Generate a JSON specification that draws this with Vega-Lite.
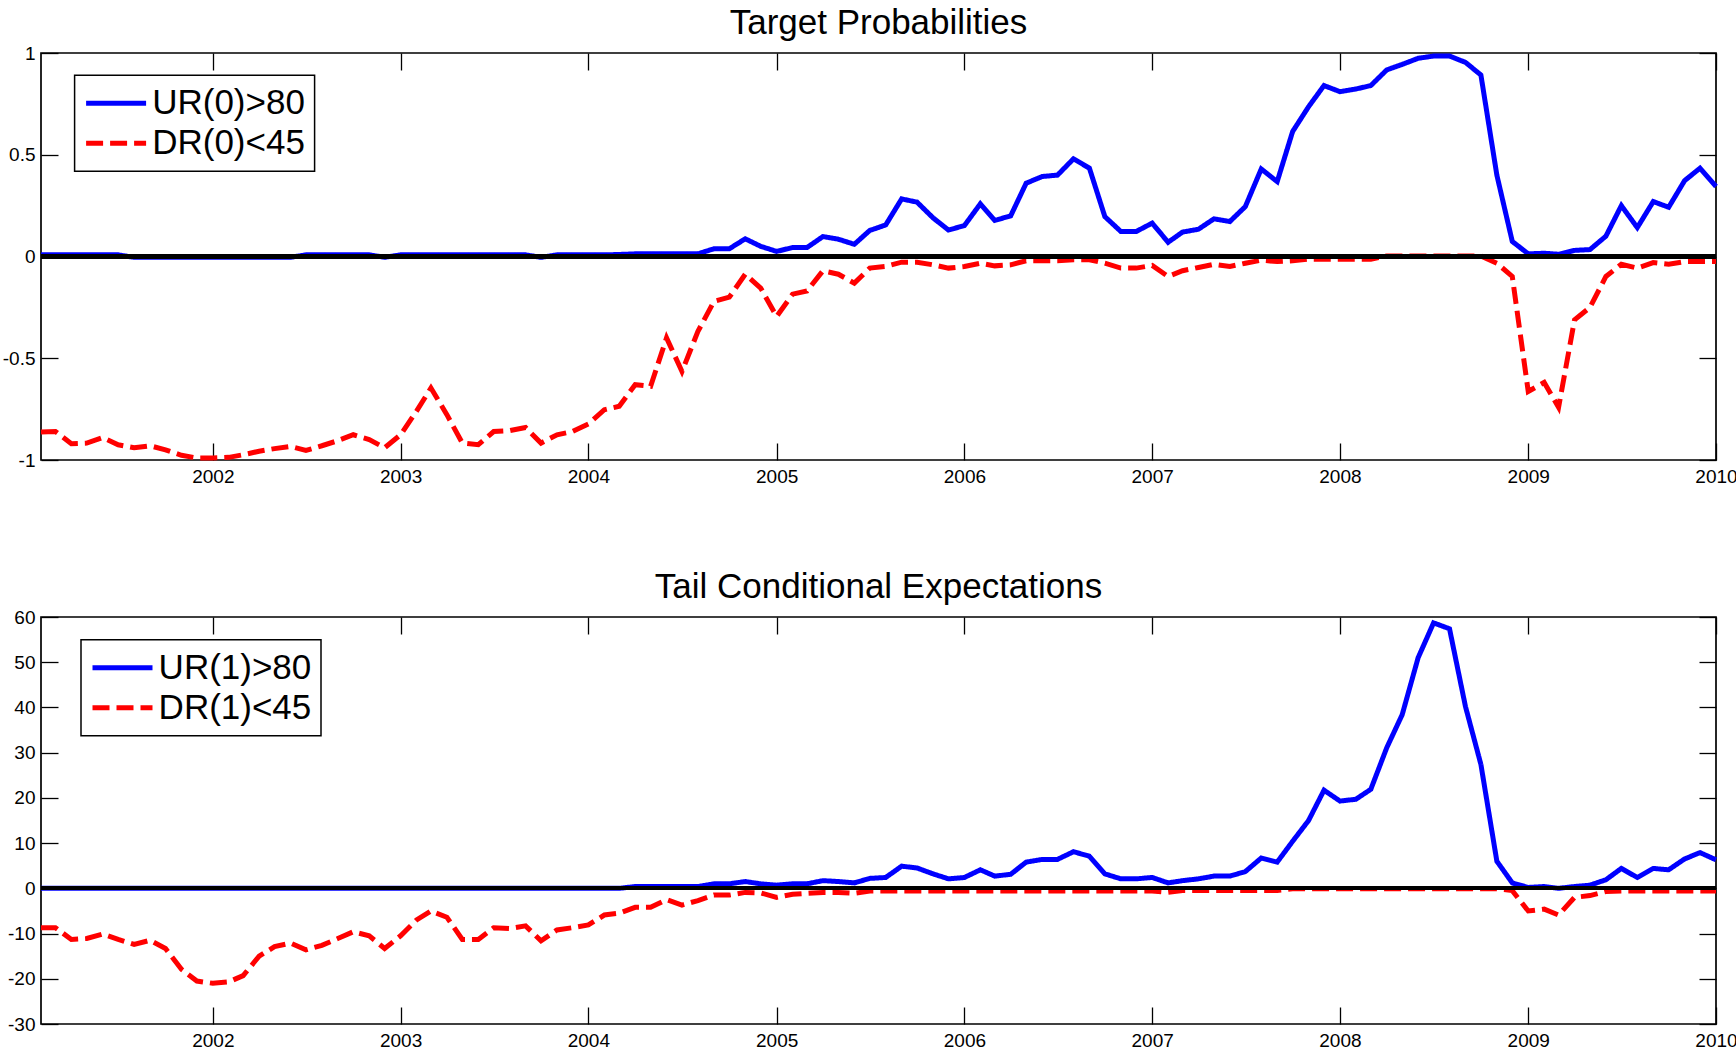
{
  "$schema": "https://vega.github.io/schema/vega-lite/v6.json",
  "padding": {"left": 1, "top": 4, "right": 0, "bottom": 0},
  "background": "white",
  "spacing": 81,
  "config": {
    "font": "Liberation Sans",
    "view": {"stroke": "black", "strokeWidth": 1.7},
    "axis": {"grid": false, "domain": false, "tickColor": "black", "tickWidth": 1.3, "tickSize": -17, "labelColor": "black", "labelFontSize": 19, "labelFont": "Liberation Sans"},
    "title": {"fontSize": 35, "fontWeight": "normal", "color": "black", "font": "Liberation Sans", "offset": 3.5, "anchor": "middle"},
    "legend": {"orient": "none", "legendX": 33.6, "legendY": 22.3, "strokeColor": "black", "strokeWidth": 1.5, "fillColor": "white", "padding": 9, "cornerRadius": 0, "symbolType": "stroke", "symbolSize": 3600, "symbolStrokeWidth": 5, "symbolOffset": 0, "clipHeight": 38, "labelFontSize": 35, "labelFont": "Liberation Sans", "labelColor": "black", "labelOffset": 3.6, "rowPadding": 2, "labelLimit": 0}
  },
  "datasets": {
    "d": [
      {"date":"2001-02-01","U0":0.008,"D0":-0.862,"U1":0,"D1":-8.7},
      {"date":"2001-03-01","U0":0.008,"D0":-0.86,"U1":0,"D1":-8.7},
      {"date":"2001-04-01","U0":0.008,"D0":-0.92,"U1":0,"D1":-11.3},
      {"date":"2001-05-01","U0":0.008,"D0":-0.917,"U1":0,"D1":-11.1},
      {"date":"2001-06-01","U0":0.008,"D0":-0.89,"U1":0,"D1":-10.1},
      {"date":"2001-07-01","U0":0.008,"D0":-0.925,"U1":0,"D1":-11.3},
      {"date":"2001-08-01","U0":-0.004,"D0":-0.94,"U1":0,"D1":-12.4},
      {"date":"2001-09-01","U0":-0.004,"D0":-0.93,"U1":0,"D1":-11.5},
      {"date":"2001-10-01","U0":-0.004,"D0":-0.95,"U1":0,"D1":-13.3},
      {"date":"2001-11-01","U0":-0.004,"D0":-0.977,"U1":0,"D1":-17.9},
      {"date":"2001-12-01","U0":-0.004,"D0":-0.99,"U1":0,"D1":-20.5},
      {"date":"2002-01-01","U0":-0.004,"D0":-0.99,"U1":0,"D1":-21.0},
      {"date":"2002-02-01","U0":-0.004,"D0":-0.987,"U1":0,"D1":-20.7},
      {"date":"2002-03-01","U0":-0.004,"D0":-0.974,"U1":0,"D1":-19.3},
      {"date":"2002-04-01","U0":-0.004,"D0":-0.957,"U1":0,"D1":-15},
      {"date":"2002-05-01","U0":-0.004,"D0":-0.944,"U1":0,"D1":-12.9},
      {"date":"2002-06-01","U0":-0.004,"D0":-0.933,"U1":0,"D1":-12.1},
      {"date":"2002-07-01","U0":0.008,"D0":-0.953,"U1":0,"D1":-13.6},
      {"date":"2002-08-01","U0":0.008,"D0":-0.93,"U1":0,"D1":-12.6},
      {"date":"2002-09-01","U0":0.008,"D0":-0.905,"U1":0,"D1":-11.1},
      {"date":"2002-10-01","U0":0.008,"D0":-0.876,"U1":0,"D1":-9.6},
      {"date":"2002-11-01","U0":0.008,"D0":-0.9,"U1":0,"D1":-10.5},
      {"date":"2002-12-01","U0":-0.004,"D0":-0.94,"U1":0,"D1":-13.3},
      {"date":"2003-01-01","U0":0.008,"D0":-0.876,"U1":0,"D1":-10.5},
      {"date":"2003-02-01","U0":0.008,"D0":-0.76,"U1":0,"D1":-7},
      {"date":"2003-03-01","U0":0.008,"D0":-0.646,"U1":0,"D1":-5},
      {"date":"2003-04-01","U0":0.008,"D0":-0.777,"U1":0,"D1":-6.4},
      {"date":"2003-05-01","U0":0.008,"D0":-0.917,"U1":0,"D1":-11.3},
      {"date":"2003-06-01","U0":0.008,"D0":-0.925,"U1":0,"D1":-11.3},
      {"date":"2003-07-01","U0":0.008,"D0":-0.86,"U1":0,"D1":-8.7},
      {"date":"2003-08-01","U0":0.008,"D0":-0.856,"U1":0,"D1":-8.9},
      {"date":"2003-09-01","U0":0.008,"D0":-0.84,"U1":0,"D1":-8.3},
      {"date":"2003-10-01","U0":-0.004,"D0":-0.917,"U1":0,"D1":-11.6},
      {"date":"2003-11-01","U0":0.008,"D0":-0.876,"U1":0,"D1":-9.2},
      {"date":"2003-12-01","U0":0.008,"D0":-0.86,"U1":0,"D1":-8.7},
      {"date":"2004-01-01","U0":0.008,"D0":-0.823,"U1":0,"D1":-8.1},
      {"date":"2004-02-01","U0":0.008,"D0":-0.753,"U1":0,"D1":-5.9},
      {"date":"2004-03-01","U0":0.01,"D0":-0.736,"U1":0,"D1":-5.5},
      {"date":"2004-04-01","U0":0.013,"D0":-0.63,"U1":0.4,"D1":-4.2},
      {"date":"2004-05-01","U0":0.013,"D0":-0.638,"U1":0.4,"D1":-4.2},
      {"date":"2004-06-01","U0":0.013,"D0":-0.4,"U1":0.4,"D1":-2.5},
      {"date":"2004-07-01","U0":0.013,"D0":-0.565,"U1":0.4,"D1":-3.7},
      {"date":"2004-08-01","U0":0.013,"D0":-0.368,"U1":0.4,"D1":-2.7},
      {"date":"2004-09-01","U0":0.038,"D0":-0.221,"U1":1.0,"D1":-1.5},
      {"date":"2004-10-01","U0":0.038,"D0":-0.2,"U1":1.0,"D1":-1.5},
      {"date":"2004-11-01","U0":0.087,"D0":-0.087,"U1":1.5,"D1":-0.9},
      {"date":"2004-12-01","U0":0.05,"D0":-0.155,"U1":1.0,"D1":-1.0},
      {"date":"2005-01-01","U0":0.025,"D0":-0.295,"U1":0.7,"D1":-2.0},
      {"date":"2005-02-01","U0":0.044,"D0":-0.185,"U1":1.0,"D1":-1.3},
      {"date":"2005-03-01","U0":0.044,"D0":-0.169,"U1":1.0,"D1":-1.1},
      {"date":"2005-04-01","U0":0.098,"D0":-0.07,"U1":1.7,"D1":-0.9},
      {"date":"2005-05-01","U0":0.085,"D0":-0.087,"U1":1.5,"D1":-0.9},
      {"date":"2005-06-01","U0":0.06,"D0":-0.131,"U1":1.2,"D1":-1.1},
      {"date":"2005-07-01","U0":0.128,"D0":-0.057,"U1":2.2,"D1":-0.6},
      {"date":"2005-08-01","U0":0.155,"D0":-0.049,"U1":2.4,"D1":-0.6},
      {"date":"2005-09-01","U0":0.283,"D0":-0.028,"U1":4.9,"D1":-0.6},
      {"date":"2005-10-01","U0":0.267,"D0":-0.028,"U1":4.5,"D1":-0.6},
      {"date":"2005-11-01","U0":0.19,"D0":-0.041,"U1":3.2,"D1":-0.6},
      {"date":"2005-12-01","U0":0.13,"D0":-0.057,"U1":2.1,"D1":-0.6},
      {"date":"2006-01-01","U0":0.152,"D0":-0.049,"U1":2.4,"D1":-0.6},
      {"date":"2006-02-01","U0":0.259,"D0":-0.033,"U1":4.1,"D1":-0.6},
      {"date":"2006-03-01","U0":0.177,"D0":-0.046,"U1":2.7,"D1":-0.6},
      {"date":"2006-04-01","U0":0.2,"D0":-0.041,"U1":3.1,"D1":-0.6},
      {"date":"2006-05-01","U0":0.36,"D0":-0.021,"U1":5.8,"D1":-0.6},
      {"date":"2006-06-01","U0":0.393,"D0":-0.021,"U1":6.4,"D1":-0.6},
      {"date":"2006-07-01","U0":0.4,"D0":-0.021,"U1":6.4,"D1":-0.6},
      {"date":"2006-08-01","U0":0.48,"D0":-0.016,"U1":8.1,"D1":-0.6},
      {"date":"2006-09-01","U0":0.434,"D0":-0.016,"U1":7.1,"D1":-0.6},
      {"date":"2006-10-01","U0":0.196,"D0":-0.033,"U1":3.2,"D1":-0.6},
      {"date":"2006-11-01","U0":0.123,"D0":-0.057,"U1":2.1,"D1":-0.6},
      {"date":"2006-12-01","U0":0.123,"D0":-0.057,"U1":2.1,"D1":-0.6},
      {"date":"2007-01-01","U0":0.164,"D0":-0.044,"U1":2.4,"D1":-0.6},
      {"date":"2007-02-01","U0":0.07,"D0":-0.098,"U1":1.2,"D1":-0.9},
      {"date":"2007-03-01","U0":0.12,"D0":-0.07,"U1":1.7,"D1":-0.5},
      {"date":"2007-04-01","U0":0.134,"D0":-0.054,"U1":2.1,"D1":-0.5},
      {"date":"2007-05-01","U0":0.185,"D0":-0.038,"U1":2.7,"D1":-0.5},
      {"date":"2007-06-01","U0":0.172,"D0":-0.049,"U1":2.7,"D1":-0.5},
      {"date":"2007-07-01","U0":0.245,"D0":-0.033,"U1":3.7,"D1":-0.5},
      {"date":"2007-08-01","U0":0.43,"D0":-0.018,"U1":6.7,"D1":-0.5},
      {"date":"2007-09-01","U0":0.368,"D0":-0.025,"U1":5.8,"D1":-0.5},
      {"date":"2007-10-01","U0":0.614,"D0":-0.021,"U1":10.4,"D1":-0.1},
      {"date":"2007-11-01","U0":0.736,"D0":-0.013,"U1":15.0,"D1":-0.1},
      {"date":"2007-12-01","U0":0.84,"D0":-0.013,"U1":21.7,"D1":-0.1},
      {"date":"2008-01-01","U0":0.81,"D0":-0.013,"U1":19.3,"D1":-0.1},
      {"date":"2008-02-01","U0":0.823,"D0":-0.013,"U1":19.7,"D1":-0.1},
      {"date":"2008-03-01","U0":0.84,"D0":-0.013,"U1":21.9,"D1":-0.1},
      {"date":"2008-04-01","U0":0.917,"D0":0.003,"U1":31.1,"D1":-0.1},
      {"date":"2008-05-01","U0":0.944,"D0":0.003,"U1":38.4,"D1":-0.1},
      {"date":"2008-06-01","U0":0.974,"D0":0.003,"U1":51,"D1":-0.1},
      {"date":"2008-07-01","U0":0.985,"D0":0.003,"U1":58.7,"D1":-0.1},
      {"date":"2008-08-01","U0":0.985,"D0":0.003,"U1":57.4,"D1":-0.1},
      {"date":"2008-09-01","U0":0.954,"D0":0.003,"U1":40.2,"D1":-0.1},
      {"date":"2008-10-01","U0":0.892,"D0":0.003,"U1":27.4,"D1":-0.1},
      {"date":"2008-11-01","U0":0.4,"D0":-0.033,"U1":6,"D1":-0.1},
      {"date":"2008-12-01","U0":0.074,"D0":-0.098,"U1":1.2,"D1":-0.5},
      {"date":"2009-01-01","U0":0.013,"D0":-0.663,"U1":0.2,"D1":-5},
      {"date":"2009-02-01","U0":0.016,"D0":-0.619,"U1":0.4,"D1":-4.6},
      {"date":"2009-03-01","U0":0.011,"D0":-0.741,"U1":0,"D1":-5.9},
      {"date":"2009-04-01","U0":0.03,"D0":-0.311,"U1":0.4,"D1":-2},
      {"date":"2009-05-01","U0":0.034,"D0":-0.25,"U1":0.7,"D1":-1.6},
      {"date":"2009-06-01","U0":0.1,"D0":-0.098,"U1":1.9,"D1":-0.7},
      {"date":"2009-07-01","U0":0.25,"D0":-0.038,"U1":4.4,"D1":-0.6},
      {"date":"2009-08-01","U0":0.142,"D0":-0.057,"U1":2.4,"D1":-0.6},
      {"date":"2009-09-01","U0":0.27,"D0":-0.03,"U1":4.4,"D1":-0.6},
      {"date":"2009-10-01","U0":0.242,"D0":-0.038,"U1":4.1,"D1":-0.6},
      {"date":"2009-11-01","U0":0.373,"D0":-0.025,"U1":6.5,"D1":-0.6},
      {"date":"2009-12-01","U0":0.434,"D0":-0.025,"U1":7.9,"D1":-0.6},
      {"date":"2010-01-01","U0":0.344,"D0":-0.025,"U1":6.3,"D1":-0.6}
    ]
  },
  "vconcat": [
    {
      "title": "Target Probabilities",
      "width": 1675,
      "height": 407,
      "data": {"name": "d"},
      "layer": [
        {
          "transform": [{"fold": ["U0", "D0"], "as": ["series", "value"]}],
          "mark": {"type": "line", "strokeWidth": 5, "strokeCap": "butt"},
          "encoding": {
            "x": {"field": "date", "type": "temporal", "title": null,
              "scale": {"type": "utc", "domain": [{"year": 2001, "month": 2, "date": 1, "utc": true}, {"year": 2010, "month": 1, "date": 1, "utc": true}], "nice": false},
              "axis": {"orient": "bottom", "format": "%Y", "labelFlush": false, "labelPadding": 24,
                "values": [{"year": 2002, "month": 1, "date": 1, "utc": true}, {"year": 2003, "month": 1, "date": 1, "utc": true}, {"year": 2004, "month": 1, "date": 1, "utc": true}, {"year": 2005, "month": 1, "date": 1, "utc": true}, {"year": 2006, "month": 1, "date": 1, "utc": true}, {"year": 2007, "month": 1, "date": 1, "utc": true}, {"year": 2008, "month": 1, "date": 1, "utc": true}, {"year": 2009, "month": 1, "date": 1, "utc": true}, {"year": 2010, "month": 1, "date": 1, "utc": true}]}},
            "y": {"field": "value", "type": "quantitative", "title": null,
              "scale": {"domain": [-1, 1], "nice": false, "zero": false},
              "axis": {"orient": "left", "values": [-1, -0.5, 0, 0.5, 1], "labelExpr": "toString(datum.value)", "labelPadding": 23}},
            "color": {"field": "series", "type": "nominal",
              "scale": {"domain": ["U0", "D0"], "range": ["#0000ff", "#ff0000"]},
              "legend": {"title": null, "labelExpr": "datum.label == 'U0' ? 'UR(0)>80' : 'DR(0)<45'"}},
            "strokeDash": {"field": "series", "type": "nominal",
              "scale": {"domain": ["U0", "D0"], "range": [[1, 0], [17, 7]]},
              "legend": {"title": null, "labelExpr": "datum.label == 'U0' ? 'UR(0)>80' : 'DR(0)<45'"}}
          }
        },
        {
          "mark": {"type": "rule", "color": "black", "strokeWidth": 3.3},
          "encoding": {"y": {"datum": 0, "axis": null}}
        },
        {
          "mark": {"type": "point", "opacity": 0},
          "encoding": {
            "x": {"field": "date", "type": "temporal", "title": null,
              "axis": {"orient": "top", "labels": false,
                "values": [{"year": 2002, "month": 1, "date": 1, "utc": true}, {"year": 2003, "month": 1, "date": 1, "utc": true}, {"year": 2004, "month": 1, "date": 1, "utc": true}, {"year": 2005, "month": 1, "date": 1, "utc": true}, {"year": 2006, "month": 1, "date": 1, "utc": true}, {"year": 2007, "month": 1, "date": 1, "utc": true}, {"year": 2008, "month": 1, "date": 1, "utc": true}, {"year": 2009, "month": 1, "date": 1, "utc": true}, {"year": 2010, "month": 1, "date": 1, "utc": true}]}},
            "y": {"field": "U0", "type": "quantitative", "title": null,
              "axis": {"orient": "right", "labels": false, "values": [-1, -0.5, 0, 0.5, 1]}}
          }
        }
      ],
      "resolve": {"axis": {"x": "independent", "y": "independent"}}
    },
    {
      "title": "Tail Conditional Expectations",
      "width": 1675,
      "height": 407,
      "data": {"name": "d"},
      "layer": [
        {
          "transform": [{"fold": ["U1", "D1"], "as": ["series", "value"]}],
          "mark": {"type": "line", "strokeWidth": 5, "strokeCap": "butt"},
          "encoding": {
            "x": {"field": "date", "type": "temporal", "title": null,
              "scale": {"type": "utc", "domain": [{"year": 2001, "month": 2, "date": 1, "utc": true}, {"year": 2010, "month": 1, "date": 1, "utc": true}], "nice": false},
              "axis": {"orient": "bottom", "format": "%Y", "labelFlush": false, "labelPadding": 24,
                "values": [{"year": 2002, "month": 1, "date": 1, "utc": true}, {"year": 2003, "month": 1, "date": 1, "utc": true}, {"year": 2004, "month": 1, "date": 1, "utc": true}, {"year": 2005, "month": 1, "date": 1, "utc": true}, {"year": 2006, "month": 1, "date": 1, "utc": true}, {"year": 2007, "month": 1, "date": 1, "utc": true}, {"year": 2008, "month": 1, "date": 1, "utc": true}, {"year": 2009, "month": 1, "date": 1, "utc": true}, {"year": 2010, "month": 1, "date": 1, "utc": true}]}},
            "y": {"field": "value", "type": "quantitative", "title": null,
              "scale": {"domain": [-30, 60], "nice": false, "zero": false},
              "axis": {"orient": "left", "values": [-30, -20, -10, 0, 10, 20, 30, 40, 50, 60], "labelExpr": "toString(datum.value)", "labelPadding": 23}},
            "color": {"field": "series", "type": "nominal",
              "scale": {"domain": ["U1", "D1"], "range": ["#0000ff", "#ff0000"]},
              "legend": {"title": null, "legendX": 40, "legendY": 22.7, "labelExpr": "datum.label == 'U1' ? 'UR(1)>80' : 'DR(1)<45'"}},
            "strokeDash": {"field": "series", "type": "nominal",
              "scale": {"domain": ["U1", "D1"], "range": [[1, 0], [17, 7]]},
              "legend": {"title": null, "legendX": 40, "legendY": 22.7, "labelExpr": "datum.label == 'U1' ? 'UR(1)>80' : 'DR(1)<45'"}}
          }
        },
        {
          "mark": {"type": "rule", "color": "black", "strokeWidth": 3.3},
          "encoding": {"y": {"datum": 0, "axis": null}}
        },
        {
          "mark": {"type": "point", "opacity": 0},
          "encoding": {
            "x": {"field": "date", "type": "temporal", "title": null,
              "axis": {"orient": "top", "labels": false,
                "values": [{"year": 2002, "month": 1, "date": 1, "utc": true}, {"year": 2003, "month": 1, "date": 1, "utc": true}, {"year": 2004, "month": 1, "date": 1, "utc": true}, {"year": 2005, "month": 1, "date": 1, "utc": true}, {"year": 2006, "month": 1, "date": 1, "utc": true}, {"year": 2007, "month": 1, "date": 1, "utc": true}, {"year": 2008, "month": 1, "date": 1, "utc": true}, {"year": 2009, "month": 1, "date": 1, "utc": true}, {"year": 2010, "month": 1, "date": 1, "utc": true}]}},
            "y": {"field": "U1", "type": "quantitative", "title": null,
              "axis": {"orient": "right", "labels": false, "values": [-30, -20, -10, 0, 10, 20, 30, 40, 50, 60]}}
          }
        }
      ],
      "resolve": {"axis": {"x": "independent", "y": "independent"}}
    }
  ],
  "resolve": {
    "scale": {"color": "independent", "strokeDash": "independent", "y": "independent", "x": "independent"},
    "legend": {"color": "independent", "strokeDash": "independent"}
  }
}
